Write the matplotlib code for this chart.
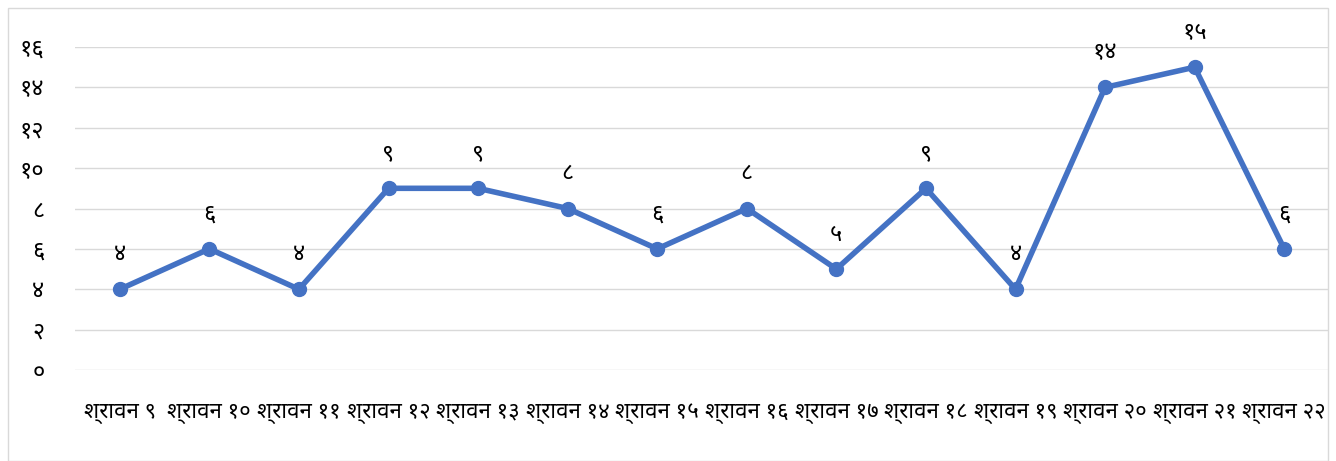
import matplotlib
matplotlib.use("Agg")
import matplotlib.pyplot as plt
from matplotlib.patches import Rectangle

# ---- data ----
categories = ["श्रावन ९", "श्रावन १०", "श्रावन ११", "श्रावन १२", "श्रावन १३", "श्रावन १४",
              "श्रावन १५", "श्रावन १६", "श्रावन १७", "श्रावन १८", "श्रावन १९", "श्रावन २०",
              "श्रावन २१", "श्रावन २२"]
values = [4, 6, 4, 9, 9, 8, 6, 8, 5, 9, 4, 14, 15, 6]
value_labels = ["४", "६", "४", "९", "९", "८", "६", "८", "५", "९", "४", "१४", "१५", "६"]
y_ticks = [0, 2, 4, 6, 8, 10, 12, 14, 16]
y_tick_labels = ["०", "२", "४", "६", "८", "१०", "१२", "१४", "१६"]

plt.rcParams['font.family'] = ["Noto Sans Devanagari", "Mukta", "Hind", "DejaVu Sans"]

color = "#4472C4"
fig = plt.figure(figsize=(13.36, 4.61), dpi=100)
fig.patches.append(Rectangle((8/1336, 0), 1 - 16/1336, 1 - 8/461, transform=fig.transFigure,
                             fill=False, edgecolor="#D9D9D9", lw=1))
ax = fig.add_axes([75/1336, 1 - 370/461, (1329 - 75)/1336, (370 - 47)/461])
x = list(range(len(values)))
ax.plot(x, values, color=color, lw=4, marker="o", ms=10, zorder=3, solid_joinstyle="round")
for xi, v, lab in zip(x, values, value_labels):
    ax.annotate(lab, (xi, v), xytext=(0, 16), textcoords="offset points", ha="center",
                va="bottom", fontsize=17, color="#000000")
ax.set_xlim(-0.5, len(values) - 0.5)
ax.set_ylim(0, 16)
ax.set_yticks(y_ticks)
ax.set_yticklabels(y_tick_labels, fontsize=17)
ax.set_xticks(x)
ax.set_xticklabels(categories, fontsize=16)
ax.tick_params(axis="y", length=0, pad=22)
ax.tick_params(axis="x", length=0, pad=24)
ax.grid(axis="y", color="#D9D9D9", lw=1)
ax.set_axisbelow(True)
for s in ax.spines.values():
    s.set_visible(False)
fig.savefig("out.png", dpi=100)
